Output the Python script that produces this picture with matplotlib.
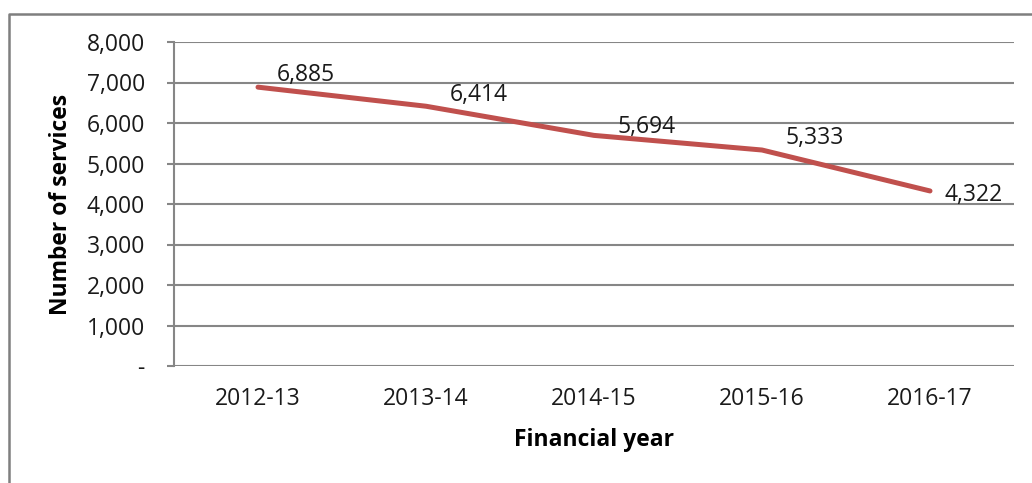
import matplotlib.pyplot as plt
from matplotlib.lines import Line2D
from matplotlib.ticker import FuncFormatter

# Services per financial year
years = ["2012-13", "2013-14", "2014-15", "2015-16", "2016-17"]
services = [6885, 6414, 5694, 5333, 4322]

# where each value label sits relative to its point (pixels)
label_offsets = [(48, 12), (53, 11), (53, 8), (53, 12), (44, -4)]

plt.rcParams["font.family"] = ["Open Sans", "DejaVu Sans"]
grey = "#868686"
fs = 16.5

fig = plt.figure(figsize=(10.32, 4.83), dpi=100)
ax = fig.add_axes([174 / 1032, 1 - 366 / 483, (1014 - 174) / 1032, (366 - 42) / 483])

x = range(len(years))
ax.plot(x, services, color="#C0504D", linewidth=3.6, solid_capstyle="round", zorder=3)

for xi, val, (dx, dy) in zip(x, services, label_offsets):
    ax.annotate(f"{val:,}", (xi, val), xytext=(dx, dy), textcoords="offset pixels",
                ha="center", va="center", fontsize=fs, color="#1a1a1a", zorder=4)

ax.set_xlim(-0.5, len(years) - 0.5)
ax.set_ylim(0, 8000)
ax.set_yticks(range(0, 8001, 1000))
ax.yaxis.set_major_formatter(FuncFormatter(lambda v, p: "-" if v == 0 else f"{int(v):,}"))
ax.set_xticks(list(x))
ax.set_xticklabels(years)

ax.grid(axis="y", color=grey, linewidth=1.5)
ax.set_axisbelow(True)
for side in ["top", "right", "bottom"]:
    ax.spines[side].set_visible(False)
ax.spines["left"].set_color(grey)
ax.spines["left"].set_linewidth(1.5)

ax.tick_params(axis="y", length=5, width=1.5, color=grey, pad=16, labelsize=fs, labelcolor="#1a1a1a")
ax.tick_params(axis="x", length=0, pad=15, labelsize=fs, labelcolor="#1a1a1a")

ax.set_xlabel("Financial year", fontsize=fs, fontweight="bold", labelpad=12)
ax.set_ylabel("Number of services", fontsize=fs, fontweight="bold", labelpad=10)

# outer chart frame (top and left edges)
fx = 8.5 / 1032
fy = 1 - 13.5 / 483
fig.add_artist(Line2D([fx, fx, 1.0], [0.0, fy, fy], transform=fig.transFigure,
                      color="#7f7f7f", linewidth=1.8))

fig.savefig("out.png", dpi=100, facecolor="white")
